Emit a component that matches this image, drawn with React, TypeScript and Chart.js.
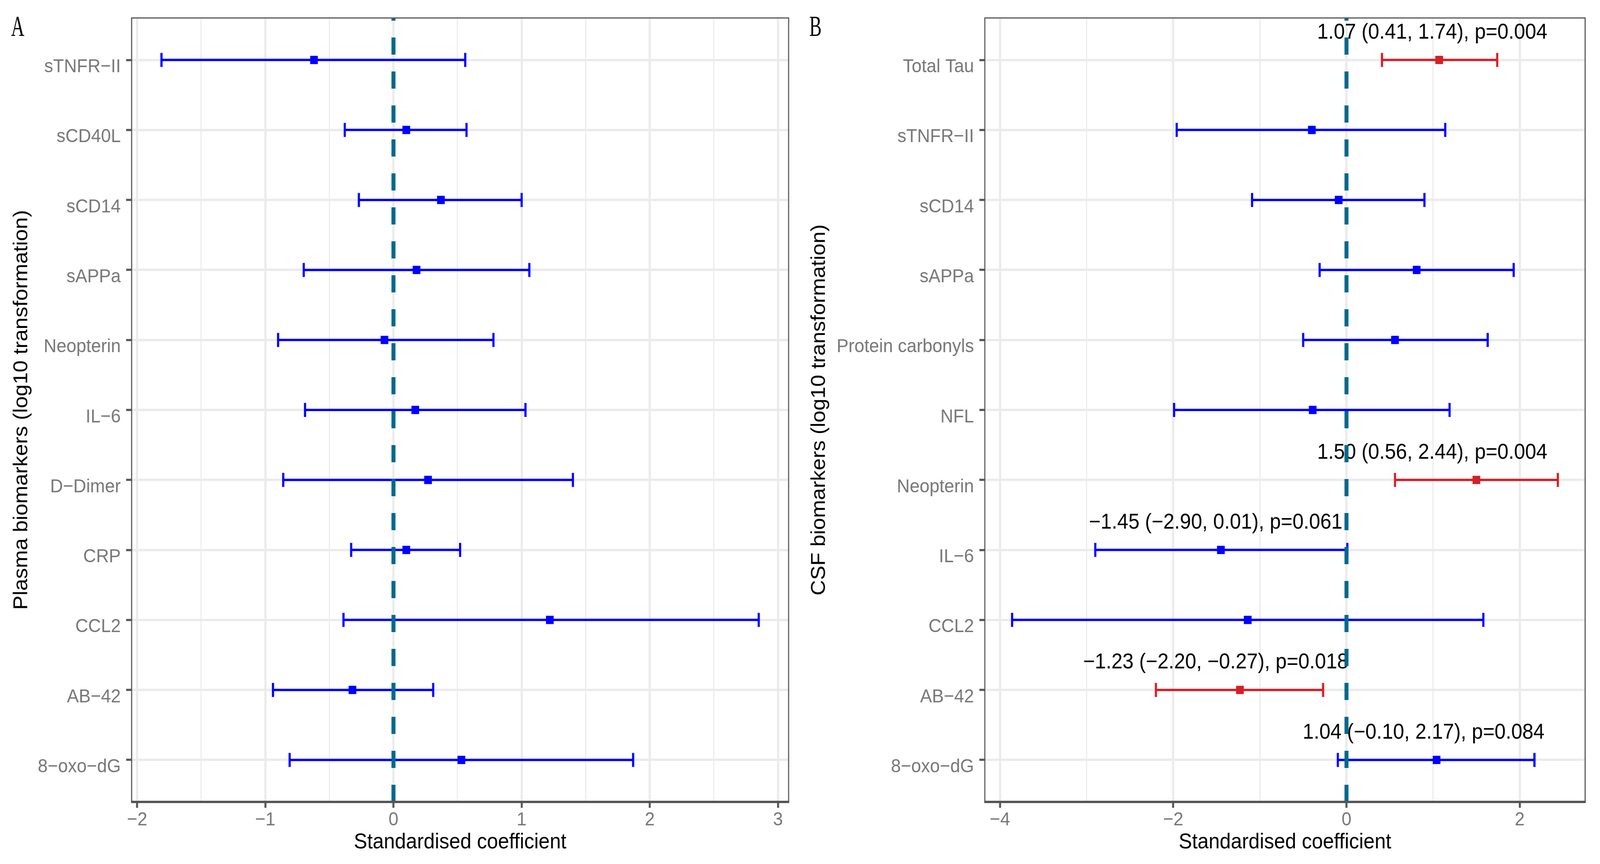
import React, { useEffect, useRef } from 'react';
import { Chart, registerables } from 'chart.js';

Chart.register(...registerables);

// ---------- Panel A: plasma ----------
const plasmaLabels = ['sTNFR−II', 'sCD40L', 'sCD14', 'sAPPa', 'Neopterin', 'IL−6', 'D−Dimer', 'CRP', 'CCL2', 'AB−42', '8−oxo−dG'];
const plasmaEst = [-0.62, 0.1, 0.37, 0.18, -0.07, 0.17, 0.27, 0.1, 1.22, -0.32, 0.53];
const plasmaLow = [-1.81, -0.38, -0.27, -0.7, -0.9, -0.69, -0.86, -0.33, -0.39, -0.94, -0.81];
const plasmaHigh = [0.56, 0.57, 1.0, 1.06, 0.78, 1.03, 1.4, 0.52, 2.85, 0.31, 1.87];
const plasmaSig = [false, false, false, false, false, false, false, false, false, false, false];
const plasmaMajorTicks = [-2, -1, 0, 1, 2, 3];
const plasmaMinorTicks = [-1.5, -0.5, 0.5, 1.5, 2.5];
const plasmaNoteRows: number[] = [];
const plasmaNoteX: number[] = [];
const plasmaNoteText: string[] = [];

// ---------- Panel B: CSF ----------
const csfLabels = ['Total Tau', 'sTNFR−II', 'sCD14', 'sAPPa', 'Protein carbonyls', 'NFL', 'Neopterin', 'IL−6', 'CCL2', 'AB−42', '8−oxo−dG'];
const csfEst = [1.07, -0.4, -0.09, 0.81, 0.56, -0.39, 1.5, -1.45, -1.14, -1.23, 1.04];
const csfLow = [0.41, -1.96, -1.09, -0.31, -0.5, -1.99, 0.56, -2.9, -3.86, -2.2, -0.1];
const csfHigh = [1.74, 1.14, 0.9, 1.93, 1.63, 1.19, 2.44, 0.01, 1.58, -0.27, 2.17];
const csfSig = [true, false, false, false, false, false, true, false, false, true, false];
const csfMajorTicks = [-4, -2, 0, 2];
const csfMinorTicks = [-3, -1, 1];
const csfNoteRows = [0, 6, 7, 9, 10];
const csfNoteX = [0.99, 0.99, -1.51, -1.51, 0.89];
const csfNoteText = [
  '1.07 (0.41, 1.74), p=0.004',
  '1.50 (0.56, 2.44), p=0.004',
  '−1.45 (−2.90, 0.01), p=0.061',
  '−1.23 (−2.20, −0.27), p=0.018',
  '1.04 (−0.10, 2.17), p=0.084',
];

const SANS = '"Liberation Sans", Arial, Helvetica, sans-serif';
const SERIF = '"Liberation Serif", "Times New Roman", serif';
const BLUE = '#0000FF';
const RED = '#D42027';
const VLINE = '#00688B';
const GRID = '#EBEBEB';
const FRAME = '#555555';
const TICKTXT = '#777777';

const W = 4412;
const H = 2213;

function fmt(v: number): string {
  return v < 0 ? '−' + Math.abs(v) : String(v);
}

interface PanelCfg {
  labels: string[];
  est: number[];
  low: number[];
  high: number[];
  sig: boolean[];
  majors: number[];
  minors: number[];
  noteRows: number[];
  noteX: number[];
  noteText: string[];
  yTitle: string;
  letter: string;
  yAxisWidth: number;
  rightPad: number;
}

function buildChart(canvas: HTMLCanvasElement, c: PanelCfg): Chart {
  const n = c.labels.length;
  const lo = Math.min(...c.low);
  const hi = Math.max(...c.high);
  const span = hi - lo;
  const xmin = lo - 0.05 * span;
  const xmax = hi + 0.05 * span;
  const isMajor = (v: number) => c.majors.some((m) => Math.abs(m - v) < 1e-9);

  const panelPlugin = {
    id: 'panel_' + c.letter,
    beforeDatasetsDraw(chart: any) {
      const ctx = chart.ctx;
      const xs = chart.scales.x;
      const ys = chart.scales.y;
      ctx.save();
      ctx.lineCap = 'butt';
      for (let i = 0; i < n; i++) {
        const col = c.sig[i] ? RED : BLUE;
        const y = ys.getPixelForValue(i);
        const x1 = xs.getPixelForValue(c.low[i]);
        const x2 = xs.getPixelForValue(c.high[i]);
        ctx.strokeStyle = col;
        ctx.lineWidth = 6;
        ctx.beginPath();
        ctx.moveTo(x1, y);
        ctx.lineTo(x2, y);
        ctx.moveTo(x1, y - 18);
        ctx.lineTo(x1, y + 18);
        ctx.moveTo(x2, y - 18);
        ctx.lineTo(x2, y + 18);
        ctx.stroke();
      }
      ctx.restore();
    },
    afterDatasetsDraw(chart: any) {
      const ctx = chart.ctx;
      const xs = chart.scales.x;
      const ys = chart.scales.y;
      const area = chart.chartArea;
      ctx.save();
      ctx.fillStyle = '#000000';
      ctx.font = `55px ${SANS}`;
      ctx.textAlign = 'center';
      ctx.textBaseline = 'middle';
      for (let k = 0; k < c.noteRows.length; k++) {
        const x = xs.getPixelForValue(c.noteX[k]);
        const y = ys.getPixelForValue(c.noteRows[k] - 0.39);
        ctx.fillText(c.noteText[k], x, y);
      }
      const x0 = xs.getPixelForValue(0);
      ctx.strokeStyle = VLINE;
      ctx.lineWidth = 11;
      ctx.setLineDash([44, 43]);
      ctx.lineDashOffset = 37;
      ctx.beginPath();
      ctx.moveTo(x0, area.top);
      ctx.lineTo(x0, area.bottom);
      ctx.stroke();
      ctx.restore();
    },
    afterDraw(chart: any) {
      const ctx = chart.ctx;
      const a = chart.chartArea;
      ctx.save();
      ctx.strokeStyle = FRAME;
      ctx.lineWidth = 3;
      ctx.strokeRect(a.left, a.top, a.right - a.left, a.bottom - a.top);
      ctx.lineWidth = 6;
      ctx.beginPath();
      ctx.moveTo(a.left - 1.5, a.bottom);
      ctx.lineTo(a.right + 1.5, a.bottom);
      ctx.stroke();
      ctx.fillStyle = '#000000';
      ctx.font = `75px ${SERIF}`;
      ctx.textAlign = 'center';
      ctx.textBaseline = 'middle';
      ctx.translate(49, 72);
      ctx.scale(0.68, 1);
      ctx.fillText(c.letter, 0, 0);
      ctx.restore();
    },
  };

  return new Chart(canvas, {
    type: 'scatter',
    data: {
      datasets: [
        {
          data: c.est.map((v, i) => ({ x: v, y: i })),
          pointStyle: 'rect',
          pointRadius: 15,
          pointHoverRadius: 15,
          pointBorderWidth: 0,
          pointBackgroundColor: c.sig.map((s) => (s ? RED : BLUE)),
          pointBorderColor: c.sig.map((s) => (s ? RED : BLUE)),
          showLine: false,
        },
      ],
    },
    options: {
      animation: false,
      responsive: false,
      devicePixelRatio: 1,
      events: [],
      layout: { padding: { left: 0, top: 46, right: c.rightPad, bottom: 0 } },
      plugins: { legend: { display: false }, tooltip: { enabled: false }, title: { display: false } },
      scales: {
        x: {
          type: 'linear',
          position: 'bottom',
          min: xmin,
          max: xmax,
          afterBuildTicks: (s: any) => {
            s.ticks = [...c.majors, ...c.minors].sort((a, b) => a - b).map((v) => ({ value: v }));
          },
          afterFit: (s: any) => {
            s.height = H - 2054;
          },
          ticks: {
            autoSkip: false,
            maxRotation: 0,
            minRotation: 0,
            padding: 2,
            color: TICKTXT,
            font: { family: SANS, size: 49 },
            callback: (v: any) => (isMajor(Number(v)) ? fmt(Number(v)) : ''),
          },
          grid: {
            color: GRID,
            lineWidth: (ctx: any) => (ctx.tick && isMajor(ctx.tick.value) ? 6 : 3),
            drawTicks: true,
            tickLength: 15,
            tickWidth: 5.5,
            tickColor: (ctx: any) => (ctx.tick && isMajor(ctx.tick.value) ? FRAME : 'rgba(0,0,0,0)'),
          },
          border: { display: false },
          title: {
            display: true,
            text: 'Standardised coefficient',
            color: '#000000',
            font: { family: SANS, size: 55 },
            padding: { top: 0, bottom: 22 },
          },
        },
        y: {
          type: 'linear',
          position: 'left',
          reverse: true,
          min: -0.6,
          max: n - 1 + 0.6,
          afterBuildTicks: (s: any) => {
            s.ticks = c.labels.map((_, i) => ({ value: i }));
          },
          afterFit: (s: any) => {
            s.width = c.yAxisWidth;
          },
          ticks: {
            autoSkip: false,
            padding: 15,
            labelOffset: 18,
            color: TICKTXT,
            font: { family: SANS, size: 49 },
            callback: (v: any) => c.labels[Number(v)] ?? '',
          },
          grid: {
            color: GRID,
            lineWidth: 6,
            drawTicks: true,
            tickLength: 15,
            tickWidth: 5.5,
            tickColor: FRAME,
          },
          border: { display: false },
          title: {
            display: true,
            text: c.yTitle,
            color: '#000000',
            font: { family: SANS, size: 55 },
            padding: { top: 27, bottom: 0 },
          },
        },
      },
    },
    plugins: [panelPlugin],
  } as any);
}

function Panel(props: { cfg: PanelCfg; left: number; width: number; sx: number }) {
  const ref = useRef<HTMLCanvasElement | null>(null);
  useEffect(() => {
    if (!ref.current) return;
    const chart = buildChart(ref.current, props.cfg);
    return () => chart.destroy();
  }, []);
  return (
    <canvas
      ref={ref}
      width={props.width}
      height={H}
      style={{
        position: 'absolute',
        left: props.left * props.sx,
        top: 0,
        width: props.width * props.sx,
        height: H,
        display: 'block',
      }}
    />
  );
}

const plasmaCfg: PanelCfg = {
  labels: plasmaLabels,
  est: plasmaEst,
  low: plasmaLow,
  high: plasmaHigh,
  sig: plasmaSig,
  majors: plasmaMajorTicks,
  minors: plasmaMinorTicks,
  noteRows: plasmaNoteRows,
  noteX: plasmaNoteX,
  noteText: plasmaNoteText,
  yTitle: 'Plasma biomarkers (log10 transformation)',
  letter: 'A',
  yAxisWidth: 363,
  rightPad: 25,
};

const csfCfg: PanelCfg = {
  labels: csfLabels,
  est: csfEst,
  low: csfLow,
  high: csfHigh,
  sig: csfSig,
  majors: csfMajorTicks,
  minors: csfMinorTicks,
  noteRows: csfNoteRows,
  noteX: csfNoteX,
  noteText: csfNoteText,
  yTitle: 'CSF biomarkers (log10 transformation)',
  letter: 'B',
  yAxisWidth: 516,
  rightPad: 41,
};

export default function App() {
  const vw = typeof window !== 'undefined' ? window.innerWidth : W;
  const sx = Math.min(1, vw / W);
  return (
    <div
      style={{
        position: 'absolute',
        left: 0,
        top: 0,
        width: W * sx,
        height: H,
        background: '#FFFFFF',
        overflow: 'hidden',
      }}
    >
      <Panel cfg={plasmaCfg} left={0} width={2200} sx={sx} />
      <Panel cfg={csfCfg} left={2200} width={W - 2200} sx={sx} />
    </div>
  );
}
